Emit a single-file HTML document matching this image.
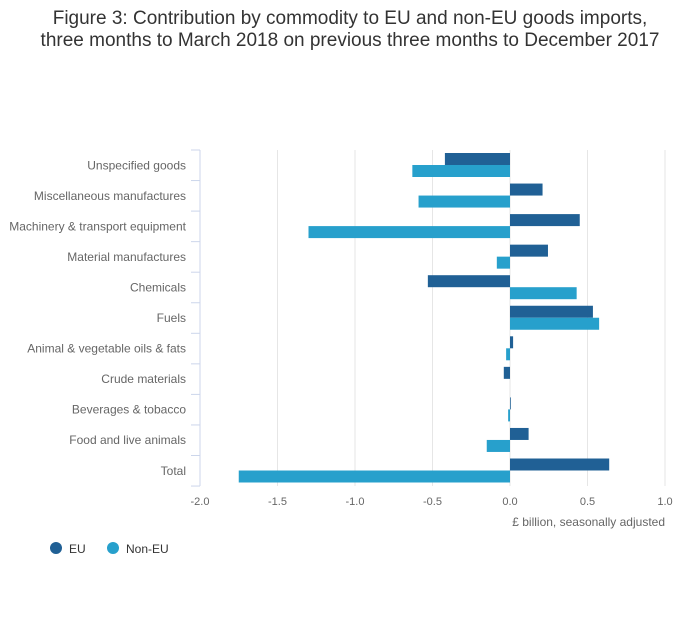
<!DOCTYPE html>
<html><head><meta charset="utf-8"><style>
body{margin:0;background:#fff;font-family:"Liberation Sans",sans-serif;}
svg text{font-family:"Liberation Sans",sans-serif;}
</style></head><body>
<svg width="700" height="635">
<text x="350" y="24" text-anchor="middle" font-size="19" fill="#333"><tspan x="350">Figure 3: Contribution by commodity to EU and non-EU goods imports,</tspan><tspan x="350" dy="22">three months to March 2018 on previous three months to December 2017</tspan></text>
<g id="grid"></g><g id="bars"></g><g id="yaxis"></g><g id="xlabels"></g>
<text x="665" y="526" text-anchor="end" font-size="12" fill="#666">£ billion, seasonally adjusted</text>
<g>
<circle cx="56" cy="548" r="6" fill="#206095"/>
<text x="69" y="553" font-size="12" fill="#333">EU</text>
<circle cx="113" cy="548" r="6" fill="#27a0cc"/>
<text x="126" y="553" font-size="12" fill="#333">Non-EU</text>
</g>
</svg>
<script>
const categories=["Unspecified goods","Miscellaneous manufactures","Machinery & transport equipment","Material manufactures","Chemicals","Fuels","Animal & vegetable oils & fats","Crude materials","Beverages & tobacco","Food and live animals","Total"];
const euValues=[-0.42,0.21,0.45,0.245,-0.53,0.535,0.02,-0.04,0.005,0.12,0.64];
const nonEuValues=[-0.63,-0.59,-1.30,-0.085,0.43,0.575,-0.025,0,-0.012,-0.15,-1.75];
const xTicks=[-2.0,-1.5,-1.0,-0.5,0.0,0.5,1.0];
const xTickLabels=["-2.0","-1.5","-1.0","-0.5","0.0","0.5","1.0"];
const NS="http://www.w3.org/2000/svg";
const x0=200,x1=665,vmin=-2,vmax=1,topY=150,bandH=30.55;
function xs(v){return x0+(v-vmin)/(vmax-vmin)*(x1-x0);}
function yb(i){return topY+i*bandH;}
function mk(t,a,p){const e=document.createElementNS(NS,t);for(const k in a)e.setAttribute(k,a[k]);p.appendChild(e);return e;}
const grid=document.getElementById('grid'),bars=document.getElementById('bars'),ya=document.getElementById('yaxis'),xl=document.getElementById('xlabels');
xTicks.forEach((t,i)=>{
 if(i>0){const g=mk('line',{x1:xs(t),x2:xs(t),y1:topY,y2:topY+11*bandH,stroke:'#e6e6e6','stroke-width':1},grid);
 
 }
 const l=mk('text',{x:xs(t),y:505,'text-anchor':'middle','font-size':11,fill:'#666'},xl);l.textContent=xTickLabels[i];
 
 
});
const ax=mk('line',{x1:x0,x2:x0,y1:topY,y2:topY+11*bandH,stroke:'#ccd6eb'},ya);


for(let i=0;i<=11;i++){const tk=mk('line',{x1:x0-9,x2:x0,y1:yb(i),y2:yb(i),stroke:'#ccd6eb'},ya);
 
 }
categories.forEach((c,i)=>{
 const t=mk('text',{x:186,y:yb(i)+bandH/2+4,'text-anchor':'end','font-size':12,fill:'#666'},ya);t.textContent=c;
 
 
 const z=xs(0);
 const e=euValues[i];const r1=mk('rect',{x:Math.min(z,xs(e)),y:yb(i)+3,width:Math.abs(xs(e)-z),height:12,fill:'#206095'},bars);
 
 
 const n=nonEuValues[i];const r2=mk('rect',{x:Math.min(z,xs(n)),y:yb(i)+15,width:Math.abs(xs(n)-z),height:12,fill:'#27a0cc'},bars);
 
 
});
</script>
</body></html>
